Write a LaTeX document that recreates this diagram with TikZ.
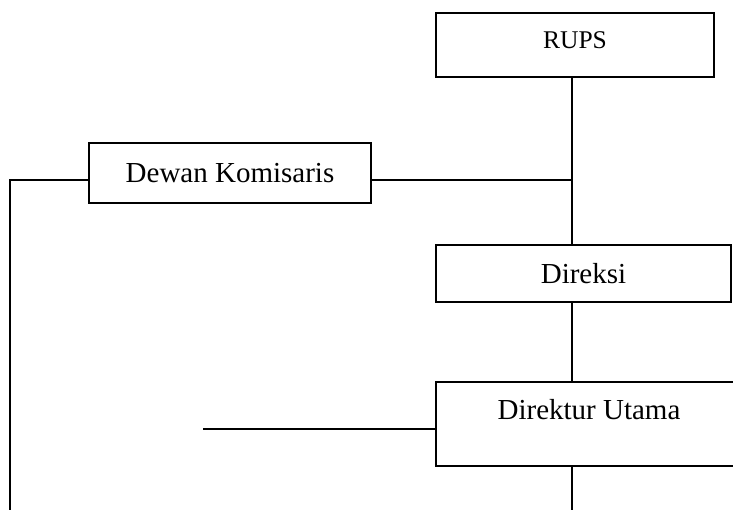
\documentclass[tikz,border=0pt]{standalone}
\usepackage{fontspec}
\setmainfont{Liberation Serif}
\usetikzlibrary{calc}

\begin{document}
\begin{tikzpicture}[
      x=1pt, y=-1pt,
      every node/.style={draw, rectangle, line width=1.3pt, inner sep=0pt, outer sep=0pt, align=center,
         text height=19pt, text depth=0pt, font=\fontsize{29}{34}\selectfont},
      line/.style={draw, line width=1.3pt}
   ]
      \useasboundingbox (0,0) rectangle (733,509);
      \clip (0,0) rectangle (733,509);

      \node[minimum width=278pt, minimum height=64pt, text height=17pt, text depth=11pt,
         font=\fontsize{25.5}{30}\selectfont] (RUPS) at (575,45) {RUPS};
      \node[minimum width=282pt, minimum height=60pt] (DK) at (230,173) {Dewan Komisaris};
      \node[minimum width=295pt, minimum height=57pt] (DIR) at (583.5,273.5) {Direksi};
      \node[minimum width=306pt, minimum height=84pt, text depth=29pt] (DU) at (589,424) {Direktur Utama};

      \coordinate (T) at (572,180);
      \coordinate (L) at (10,512);
      \coordinate (B) at (572,512);
      \coordinate (S) at (203,429);

      \draw[line] (RUPS.south -| T) -- (DIR.north -| T);
      \draw[line] (DK.east |- T) -- (T);
      \draw[line] (DK.west |- T) -- (L |- T) -- (L);
      \draw[line] (DIR.south -| T) -- (DU.north -| T);
      \draw[line] (DU.south -| T) -- (B);
      \draw[line] (S) -- (S -| DU.west);
   \end{tikzpicture}
\end{document}
